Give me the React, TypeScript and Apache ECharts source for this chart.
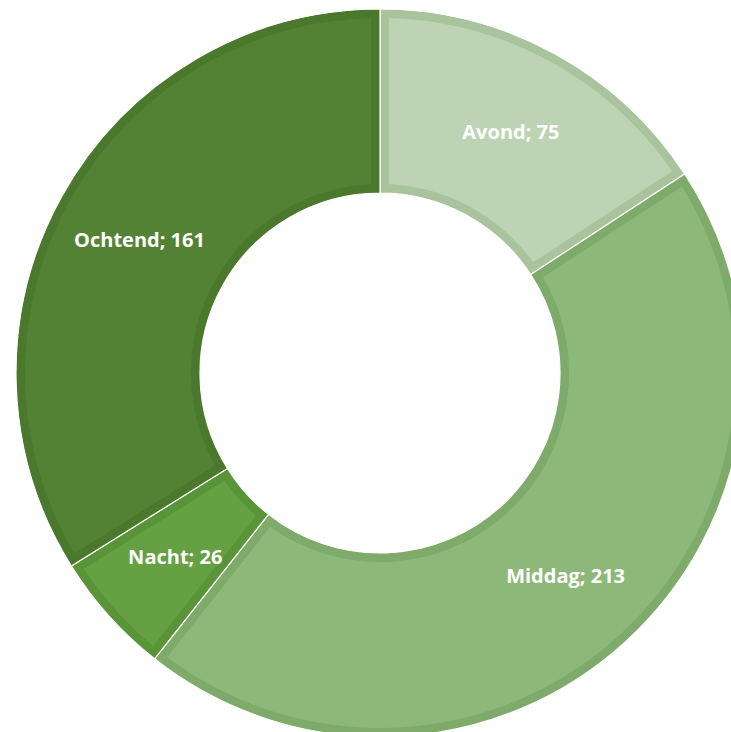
import React, { useEffect, useRef } from "react";
import * as echarts from "echarts";

const categories = ["Avond", "Middag", "Nacht", "Ochtend"];
const values = [75, 213, 26, 161];
const fillColors = ["#BED3B3", "#8EB87A", "#65A042", "#548235"];
const borderColors = ["#A9C49C", "#7EAA6A", "#5A9438", "#4A782C"];

const CENTER: [number, number] = [380, 373];
const R_IN = 180;
const R_OUT = 364;
const BORDER = 9;

export default function App() {
  const ref = useRef<HTMLDivElement>(null);
  useEffect(() => {
    if (!ref.current) return;
    const chart = echarts.init(ref.current, undefined, { renderer: "svg" });
    const total = values.reduce((a, b) => a + b, 0);
    const spans: number[][] = [];
    let acc = 0;
    values.forEach((v, i) => {
      spans.push([acc, acc + v, i]);
      acc += v;
    });
    const base = categories.map((name, i) => ({
      name,
      value: values[i],
      itemStyle: { color: borderColors[i] },
    }));
    const labels = categories.map((name, i) => ({
      name,
      value: values[i],
    }));
    const rA = R_IN + BORDER;
    const rB = R_OUT - BORDER;
    const off = (R: number) => (Math.asin(BORDER / R) / (2 * Math.PI)) * total;

    chart.setOption({
      animation: false,
      backgroundColor: "#ffffff",
      polar: { center: CENTER, radius: [0, R_OUT] },
      angleAxis: {
        type: "value",
        min: 0,
        max: total,
        startAngle: 90,
        clockwise: true,
        axisLine: { show: false },
        axisTick: { show: false },
        axisLabel: { show: false },
        splitLine: { show: false },
      },
      radiusAxis: {
        type: "value",
        min: 0,
        max: R_OUT,
        axisLine: { show: false },
        axisTick: { show: false },
        axisLabel: { show: false },
        splitLine: { show: false },
      },
      series: [
        {
          type: "pie",
          center: CENTER,
          radius: [R_IN, R_OUT],
          startAngle: 90,
          clockwise: true,
          silent: true,
          z: 1,
          label: { show: false },
          labelLine: { show: false },
          itemStyle: { borderColor: "#ffffff", borderWidth: 1.2 },
          data: base,
        },
        {
          type: "custom",
          coordinateSystem: "polar",
          silent: true,
          z: 2,
          data: spans,
          renderItem: (params: any, api: any) => {
            const s = api.value(0);
            const e = api.value(1);
            const idx = api.value(2);
            const pts: number[][] = [];
            const N = 80;
            const oa = off(rB);
            for (let k = 0; k <= N; k++) {
              const v = s + oa + ((e - oa) - (s + oa)) * (k / N);
              pts.push(api.coord([rB, v]));
            }
            const ia = off(rA);
            for (let k = 0; k <= N; k++) {
              const v = e - ia - ((e - ia) - (s + ia)) * (k / N);
              pts.push(api.coord([rA, v]));
            }
            return {
              type: "polygon",
              shape: { points: pts },
              style: { fill: fillColors[idx], stroke: "none" },
            };
          },
        },
        {
          type: "pie",
          center: CENTER,
          radius: [R_IN, R_OUT],
          startAngle: 90,
          clockwise: true,
          silent: true,
          z: 3,
          itemStyle: { color: "transparent" },
          labelLine: { show: false },
          label: {
            show: true,
            position: "inside",
            formatter: "{b}; {c}",
            color: "#ffffff",
            fontFamily: "Open Sans",
            fontWeight: "bold",
            fontSize: 20,
          },
          data: labels,
        },
      ],
    });
    return () => chart.dispose();
  }, []);
  return (
    <div
      ref={ref}
      style={{ position: "fixed", left: 0, top: 0, width: 731, height: 732 }}
    />
  );
}
